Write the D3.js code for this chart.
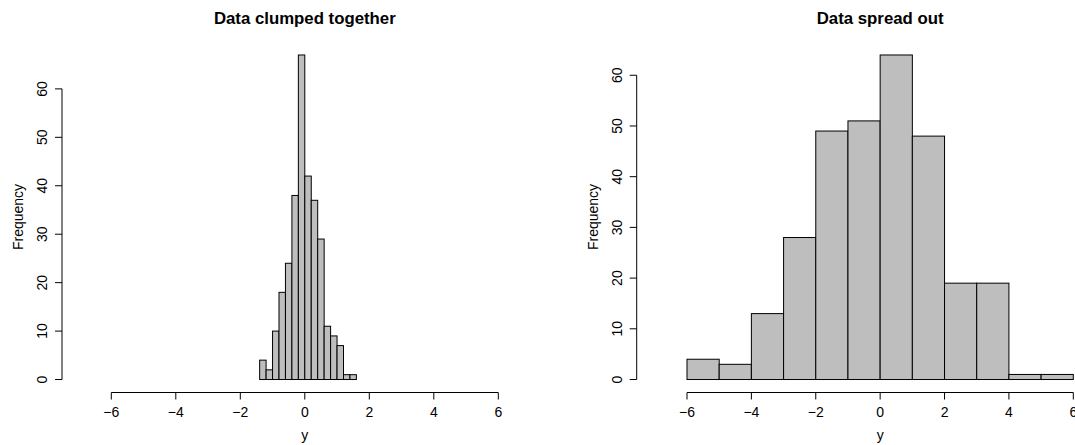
<!DOCTYPE html>
<html>
<head>
<meta charset="utf-8">
<script src="https://cdn.jsdelivr.net/npm/d3@7"></script>
<style>
  body { margin: 0; background: #fff; }
  svg { font-family: "Liberation Sans", Arial, sans-serif; }
</style>
</head>
<body>
<svg id="chart" width="1075" height="445"></svg>
<script>
// histogram data
const clumpedBreaks = [-1.4, -1.2, -1.0, -0.8, -0.6, -0.4, -0.2, 0, 0.2, 0.4, 0.6, 0.8, 1.0, 1.2, 1.4, 1.6];
const clumpedCounts = [4, 2, 10, 18, 24, 38, 67, 42, 37, 29, 11, 9, 7, 1, 1];
const spreadBreaks = [-6, -5, -4, -3, -2, -1, 0, 1, 2, 3, 4, 5, 6];
const spreadCounts = [4, 3, 13, 28, 49, 51, 64, 48, 19, 19, 1, 1];
const xTicks = [-6, -4, -2, 0, 2, 4, 6];
const yTicks = [0, 10, 20, 30, 40, 50, 60];

const svg = d3.select("#chart");

function drawHist(opts) {
  const g = svg.append("g");
  const x = d3.scaleLinear().domain([-6, 6]).range(opts.xr);
  const maxC = d3.max(opts.counts);
  const y = d3.scaleLinear().domain([-0.04 * maxC, 1.04 * maxC]).range([392.5, 42]);

  const bins = opts.counts.map((c, i) => ({ x0: opts.breaks[i], x1: opts.breaks[i + 1], c: c }));

  g.selectAll("rect.bar")
    .data(bins)
    .enter().append("rect")
    .attr("class", "bar")
    .attr("x", d => x(d.x0))
    .attr("y", d => y(d.c))
    .attr("width", d => x(d.x1) - x(d.x0))
    .attr("height", d => y(0) - y(d.c))
    .attr("fill", "#bebebe")
    .attr("stroke", "#000")
    .attr("stroke-width", 1);

  // x axis, R style
  const xa = g.append("g").attr("transform", "translate(0,392.5)");
  xa.append("line")
    .attr("x1", x(-6)).attr("x2", x(6))
    .attr("stroke", "#000");
  xa.selectAll("line.tick").data(xTicks).enter().append("line")
    .attr("x1", d => x(d)).attr("x2", d => x(d))
    .attr("y1", 0).attr("y2", 7)
    .attr("stroke", "#000");
  xa.selectAll("text").data(xTicks).enter().append("text")
    .attr("x", d => x(d)).attr("y", 24)
    .attr("text-anchor", "middle")
    .attr("font-size", 14)
    .text(d => d < 0 ? "\u2212" + Math.abs(d) : d);

  // y axis
  const ya = g.append("g").attr("transform", `translate(${opts.yAxisX},0)`);
  ya.append("line")
    .attr("y1", y(0)).attr("y2", y(60))
    .attr("stroke", "#000");
  ya.selectAll("line.tick").data(yTicks).enter().append("line")
    .attr("y1", d => y(d)).attr("y2", d => y(d))
    .attr("x1", 0).attr("x2", -7)
    .attr("stroke", "#000");
  ya.selectAll("text").data(yTicks).enter().append("text")
    .attr("transform", d => `translate(-15,${y(d)}) rotate(-90)`)
    .attr("text-anchor", "middle")
    .attr("font-size", 14)
    .text(d => d);

  g.append("text")
    .attr("transform", `translate(${opts.yAxisX - 39},217) rotate(-90)`)
    .attr("text-anchor", "middle")
    .attr("font-size", 14)
    .text("Frequency");

  g.append("text")
    .attr("x", x(0)).attr("y", 439.5)
    .attr("text-anchor", "middle")
    .attr("font-size", 14)
    .text("y");

  g.append("text")
    .attr("x", x(0)).attr("y", 24)
    .attr("text-anchor", "middle")
    .attr("font-size", 16.8)
    .attr("font-weight", "bold")
    .text(opts.title);
}

drawHist({ breaks: clumpedBreaks, counts: clumpedCounts, xr: [111.3, 498.3], yAxisX: 62, title: "Data clumped together" });
drawHist({ breaks: spreadBreaks, counts: spreadCounts, xr: [687, 1073.3], yAxisX: 636.7, title: "Data spread out" });
</script>
</body>
</html>
